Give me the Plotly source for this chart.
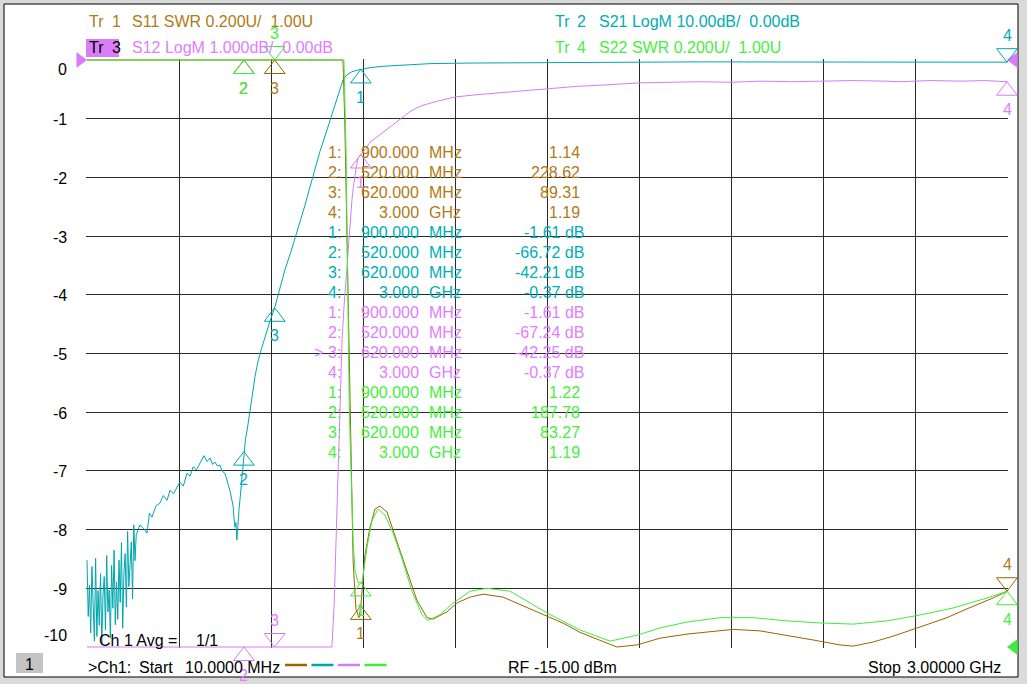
import numpy as np
import plotly.graph_objects as go

W, H = 1027, 684
ML, MR, MT, MB = 86, 19, 59, 36
PW, PH = W - ML - MR, H - MT - MB
FONT = "Liberation Sans, Arial, sans-serif"

start_mhz, stop_mhz = 10.0, 3000.0

# trace colours (line / text)
C_S11, T_S11 = "#9A6400", "#B07A16"
C_S21, T_S21 = "#00A6AE", "#00AEB4"
C_S12, T_S12 = "#D67CF2", "#E07EFF"
C_S22, T_S22 = "#3CEE3C", "#48EE40"

# ---- S11 (SWR) ----
s11_f = [10, 60, 120, 200, 300, 400, 460, 520, 620, 700, 780, 820, 842, 848, 852, 855, 858, 862, 865, 868,
         871, 875, 884, 894, 900, 913, 930, 946, 962, 985, 1017, 1050, 1082, 1115, 1135, 1180, 1212, 1255, 1297, 1362,
         1427, 1505, 1560, 1612, 1677, 1732, 1797, 1872, 1960, 2025, 2110, 2197, 2285, 2370, 2457, 2500, 2565, 2630,
         2717, 2805, 2870, 2955, 3000]
s11_v = [310, 295, 280, 265, 250, 240, 232, 228.62, 89.31, 38.0, 11.5, 5.2, 3.0, 2.78, 2.56, 2.35, 2.11, 1.93, 1.72, 1.57,
         1.43, 1.29, 1.13, 1.10, 1.14, 1.31, 1.41, 1.47, 1.48, 1.46, 1.36, 1.26, 1.16, 1.10, 1.095, 1.12, 1.15, 1.17, 1.18, 1.17,
         1.14, 1.106, 1.08, 1.05, 1.024, 1.0, 1.007, 1.03, 1.044, 1.05, 1.06, 1.055, 1.04, 1.024, 1.007, 1.003, 1.017, 1.037,
         1.068, 1.10, 1.13, 1.167, 1.19]

# ---- S21 (dB) ----
s21_f = [10, 14, 18, 22, 26, 30, 34, 38, 42, 46, 50, 54, 58, 62, 66, 70, 74, 78, 82, 86,
         90, 94, 98, 102, 106, 110, 114, 118, 122, 126, 130, 134, 138, 142, 146, 150, 154, 158, 162, 166, 170,
         182, 194, 205, 213, 221, 234, 247, 258, 270, 280, 291, 302, 312, 323, 335, 345, 355, 366, 377, 390,
         400, 410, 418, 426, 434, 442, 450, 458, 463, 468, 475, 481, 485, 488, 491, 494, 497, 499, 501, 504,
         507, 510, 514, 517, 520, 525, 530, 536, 546, 556, 566, 577, 588, 604, 620, 640, 654, 672, 692, 718,
         744, 767, 790, 806, 822, 832, 842, 855, 871, 887, 900, 930, 978, 1027, 1125, 1255, 1417, 1580, 1670, 1690,
         2000, 2330, 2650, 3000]
s21_v = [-85.2, -94.8, -89.5, -97.6, -86.3, -92.1, -99.0, -84.9, -98.2, -90.4, -96.3, -87.5, -99.4, -91.2, -88.0,
         -97.1, -84.4, -94.0, -90.3, -98.5, -86.1, -93.4, -83.5, -96.2, -88.9, -95.3, -85.2, -92.4, -82.2, -96.8,
         -87.6, -84.1, -93.2, -80.3, -89.7, -86.0, -82.1, -91.8, -79.2, -85.3, -80.9,
         -79.2, -79.8, -80.6, -77.2, -77.9, -76.0, -75.5, -74.2, -75.0, -73.3, -73.9, -72.7, -71.9, -72.6, -70.4,
         -70.9, -69.3, -69.8, -68.7, -67.4, -68.4, -67.8, -68.9, -68.5, -69.2, -69.0, -70.1, -70.4, -71.2, -72.1,
         -73.5, -75.0, -76.1, -78.2, -79.6, -78.8, -81.8, -80.5, -78.4, -76.6, -75.0, -73.2, -71.0, -69.0, -66.72,
         -64.6, -63.2, -61.3, -57.6, -53.9, -51.3, -49.2, -47.2, -44.6, -42.21, -38.3, -35.6, -32.8, -29.5, -24.8,
         -19.9, -15.6, -11.9, -9.3, -6.8, -5.0, -3.4, -2.5, -2.0, -1.75, -1.61, -1.3, -1.05, -0.88, -0.62, -0.52,
         -0.47, -0.44, -0.43, -0.33, -0.32, -0.34, -0.35, -0.37]

# ---- S12 (dB) ----
s12_f = [10, 100, 200, 300, 400, 460, 497, 520, 620, 700, 760, 800, 806, 813, 819, 824, 829, 834, 839, 844,
         849, 854, 858, 862, 865, 871, 876, 881, 886, 891, 896, 900, 915, 930, 950, 972, 995, 1017, 1040, 1060,
         1080, 1102, 1150, 1206, 1280, 1352, 1430, 1515, 1600, 1677, 1740, 1807, 1900, 2002, 2100, 2200, 2300, 2392,
         2500, 2600, 2652, 2750, 2850, 2930, 3000]
s12_v = [-90, -86, -79, -73, -69, -70, -82, -67.24, -42.25, -29, -19.5, -12.2, -10.0, -9.3, -8.2, -7.2, -6.3, -5.5, -4.77, -4.3,
         -3.92, -3.62, -3.41, -3.05, -2.73, -2.39, -2.15, -1.93, -1.80, -1.67, -1.63, -1.61, -1.52, -1.40, -1.32, -1.23, -1.14,
         -1.06, -0.96, -0.88, -0.82, -0.77, -0.70, -0.63, -0.59, -0.56, -0.52, -0.48, -0.45, -0.43, -0.41, -0.39, -0.38, -0.37,
         -0.38, -0.36, -0.37, -0.36, -0.35, -0.36, -0.37, -0.35, -0.36, -0.35, -0.37]

# ---- S22 (SWR) ----
s22_f = [10, 60, 120, 200, 300, 400, 460, 520, 620, 700, 780, 820, 845, 852, 855, 858, 862, 865, 868, 871,
         875, 881, 891, 900, 904, 920, 936, 956, 978, 1004, 1034, 1066, 1099, 1118, 1157, 1200, 1255, 1310, 1385, 1450,
         1505, 1612, 1710, 1797, 1872, 1960, 2067, 2175, 2285, 2392, 2500, 2610, 2717, 2825, 2935, 3000]
s22_v = [290, 275, 262, 250, 238, 225, 210, 187.78, 83.27, 35.0, 10.5, 4.8, 3.0, 2.69, 2.39, 2.11, 1.84, 1.71, 1.60, 1.50,
         1.36, 1.26, 1.22, 1.22, 1.22, 1.34, 1.43, 1.47, 1.45, 1.39, 1.30, 1.19, 1.11, 1.09, 1.11, 1.15, 1.19, 1.20, 1.19, 1.15,
         1.116, 1.058, 1.02, 1.04, 1.065, 1.085, 1.10, 1.10, 1.089, 1.082, 1.078, 1.089, 1.109, 1.133, 1.167, 1.19]

# ---- markers ----
mk_f = [900, 520, 620, 3000]
s11_mk = [1.14, 228.62, 89.31, 1.19]
s21_mk = [-1.61, -66.72, -42.21, -0.37]
s12_mk = [-1.61, -67.24, -42.25, -0.37]
s22_mk = [1.22, 187.78, 83.27, 1.19]

ylabels = [0, -1, -2, -3, -4, -5, -6, -7, -8, -9, -10]

# display scales (bottom, top of graticule)
SWR_RANGE = (1.0, 3.0)
S21_RANGE = (-100.0, 0.0)
S12_RANGE = (-10.0, 0.0)


def padded(lo, hi, npx):
    p = (hi - lo) / (npx - 2)
    return [lo - p, hi + p]


def P(px, py):
    return (px - ML) / PW, (H - MB - py) / PH


ann = []
shapes = []


def txt(px, py, s, color, anchor="left", size=16):
    x, y = P(px, py)
    ann.append(dict(x=x, y=y, xref="paper", yref="paper", text=s, showarrow=False,
                    xanchor=anchor, yanchor="middle", font=dict(color=color, size=size, family=FONT)))


def rect(x0, y0, x1, y1, fill, line=None, layer="below"):
    a, b = P(x0, y0)
    c, d = P(x1, y1)
    shapes.append(dict(type="rect", xref="paper", yref="paper", x0=a, y0=d, x1=c, y1=b, layer=layer,
                       fillcolor=fill, line=dict(color=line or fill, width=1 if line else 0)))


fig = go.Figure()

series = [
    ("S11", s11_f, s11_v, "y3", SWR_RANGE, C_S11),
    ("S21", s21_f, s21_v, "y2", S21_RANGE, C_S21),
    ("S12", s12_f, s12_v, "y", S12_RANGE, C_S12),
    ("S22", s22_f, s22_v, "y3", SWR_RANGE, C_S22),
]
for name, f, v, yax, rng, col in series:
    # the analyser pins off-scale points to the graticule edge
    fig.add_trace(go.Scatter(x=f, y=np.clip(v, *rng), yaxis=yax, mode="lines", name=name,
                             line=dict(color=col, width=1), hoverinfo="skip"))

# marker triangles: angle 0 = below the point, 180 = above
mk_sets = [
    (s11_mk, "y3", SWR_RANGE, C_S11, T_S11, [0, 0, 0, 180]),
    (s21_mk, "y2", S21_RANGE, C_S21, T_S21, [0, 0, 0, 180]),
    (s12_mk, "y", S12_RANGE, C_S12, T_S12, [0, 0, 180, 0]),
    (s22_mk, "y3", SWR_RANGE, C_S22, T_S22, [0, 0, 180, 0]),
]
for vals, yax, rng, col, tcol, ang in mk_sets:
    yv = np.clip(vals, *rng)
    fig.add_trace(go.Scatter(x=mk_f, y=yv, yaxis=yax, mode="markers", cliponaxis=False, hoverinfo="skip",
                             marker=dict(symbol="triangle-up-open", size=18, color=col, angle=ang, standoff=9,
                                         line=dict(color=col, width=1))))
    for i, (f, y, a) in enumerate(zip(mk_f, yv, ang)):
        ann.append(dict(x=f, y=y, xref="x", yref=yax, text=str(i + 1), showarrow=False,
                        yshift=-28 if a == 0 else 27, font=dict(color=tcol, size=16, family=FONT)))

# reference-position arrows
fig.add_trace(go.Scatter(x=[start_mhz, stop_mhz], y=[0, 0], mode="markers", cliponaxis=False, hoverinfo="skip",
                         marker=dict(symbol="triangle-up", size=14, color="#DA7CFA", angle=[90, -90], standoff=7)))
fig.add_trace(go.Scatter(x=[stop_mhz], y=[SWR_RANGE[0]], yaxis="y3", mode="markers", cliponaxis=False,
                         hoverinfo="skip",
                         marker=dict(symbol="triangle-up", size=14, color=C_S22, angle=[-90], standoff=7)))

# window frame
rect(4, 4, 1018, 677, "white", "black")
rect(16, 653, 43, 673, "#C4C4C4")
rect(86, 39, 119, 57, "#D97EF7", layer="above")

# header
txt(87, 21, "Tr", T_S11); txt(110, 21, "1", T_S11)
txt(130, 21, "S11 SWR 0.200U/\u00a0 1.00U", T_S11)
txt(87, 48, "Tr", "black"); txt(110, 48, "3", "black")
txt(130, 48, "S12 LogM 1.000dB/\u00a0 0.00dB", T_S12)
txt(553, 21, "Tr", T_S21); txt(575, 21, "2", T_S21)
txt(597, 21, "S21 LogM 10.00dB/\u00a0 0.00dB", T_S21)
txt(553, 48, "Tr", T_S22); txt(575, 48, "4", T_S22)
txt(597, 48, "S22 SWR 0.200U/\u00a0 1.00U", T_S22)

# y tick labels (active trace)
for v in ylabels:
    shift = -9 if v == 0 else (12 if v == ylabels[-1] else -1)
    ann.append(dict(x=(69 - ML) / PW, y=v, xref="paper", yref="y", text=str(v), showarrow=False,
                    xanchor="right", yshift=shift, font=dict(color="black", size=16, family=FONT)))

# marker table
rows = []
for vals, unit, col in [(s11_mk, "", T_S11), (s21_mk, " dB", T_S21), (s12_mk, " dB", T_S12), (s22_mk, "", T_S22)]:
    for i, (f, v) in enumerate(zip(mk_f, vals)):
        rows.append((i + 1, f, v, unit, col))
for k, (n, f, v, unit, col) in enumerate(rows):
    py = 152.5 + 20 * k
    txt(343, py, f"{n}:", col, "right")
    if f >= 1000:
        fs, fu = f"{f / 1000:.3f}", "GHz"
    else:
        fs, fu = f"{f:.3f}", "MHz"
    txt(421, py, fs, col, "right")
    txt(427, py, fu, col)
    txt(586 if unit else 582, py, f"{v:.2f}{unit}", col, "right")
txt(325, 152.5 + 20 * 10, ">", T_S12, "right")

# footer
txt(97, 640, "Ch 1 Avg =", "black"); txt(194, 640, "1/1", "black")
txt(29.5, 664, "1", "black", "center")
txt(86, 667, ">Ch1:", "black"); txt(137, 667, "Start", "black")
txt(183, 667, f"{start_mhz:.4f} MHz", "black")
for i, col in enumerate([C_S11, C_S21, C_S12, C_S22]):
    a, b = P(285 + 26.5 * i, 665)
    c, _ = P(307 + 26.5 * i, 665)
    shapes.append(dict(type="line", xref="paper", yref="paper", x0=a, x1=c, y0=b, y1=b,
                       line=dict(color=col, width=2.5)))
txt(506, 667, "RF", "black"); txt(532, 667, "-15.00 dBm", "black")
txt(866, 667, "Stop", "black")
txt(1003, 667, f"{stop_mhz / 1000:.5f} GHz", "black", "right")

grid = dict(showgrid=True, gridcolor="#2a2a2a", gridwidth=1, zeroline=False, showline=False,
            showticklabels=False, ticks="", fixedrange=True)
fig.update_layout(
    width=W, height=H, margin=dict(l=ML, r=MR, t=MT, b=MB),
    paper_bgcolor="#DADADA", plot_bgcolor="rgba(0,0,0,0)", showlegend=False,
    xaxis=dict(range=padded(start_mhz, stop_mhz, PW), tick0=start_mhz, dtick=(stop_mhz - start_mhz) / 10, **grid),
    yaxis=dict(range=padded(*S12_RANGE, PH), tick0=0, dtick=1, **grid),
    yaxis2=dict(range=padded(*S21_RANGE, PH), overlaying="y", visible=False, fixedrange=True),
    yaxis3=dict(range=padded(*SWR_RANGE, PH), overlaying="y", visible=False, fixedrange=True),
    shapes=shapes, annotations=ann,
)

fig.write_html("out.html", config={"displayModeBar": False},
               post_script="document.body.style.margin='0';document.body.style.overflow='hidden';")
